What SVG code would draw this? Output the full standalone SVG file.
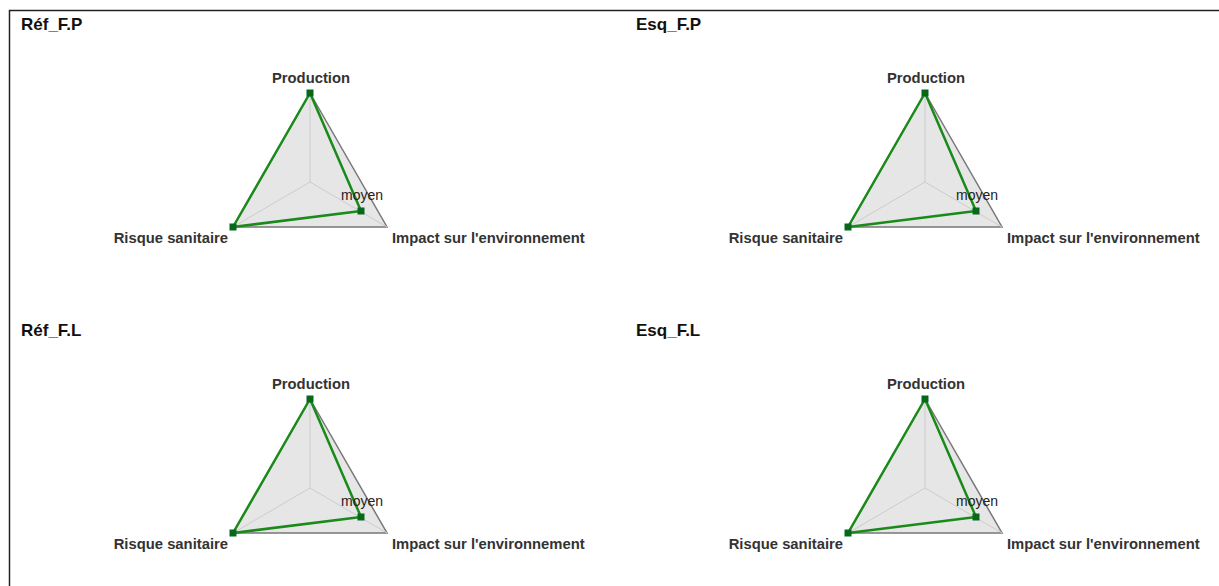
<svg xmlns="http://www.w3.org/2000/svg" width="1219" height="586" viewBox="0 0 1219 586">
<defs>
<style>
.title{font-family:"Liberation Sans",Arial,sans-serif;font-weight:bold;font-size:17px;fill:#111}
.lab{font-family:"Liberation Sans",Arial,sans-serif;font-weight:bold;font-size:14.8px;fill:#333}
.val{font-family:"Liberation Sans",Arial,sans-serif;font-size:14px;fill:#222}
.web{fill:#e6e6e6;stroke:#777;stroke-width:1.5}
.axis{stroke:#ccc;stroke-width:1;fill:none}
.data{fill:none;stroke:#1a8a1a;stroke-width:2.5;stroke-linejoin:round}
.pt{fill:#0a6a0a;stroke:#063;stroke-width:1}
</style>
<g id="radar">
<polygon class="web" points="310,93 387,227 233,227"/>
<line class="axis" x1="310" y1="182" x2="310" y2="93"/>
<line class="axis" x1="310" y1="182" x2="387" y2="227"/>
<line class="axis" x1="310" y1="182" x2="233" y2="227"/>
<polygon class="data" points="310,93 361,211 233,227"/>
<rect class="pt" x="307" y="90" width="6" height="6"/>
<rect class="pt" x="358" y="208" width="6" height="6"/>
<rect class="pt" x="230" y="224" width="6" height="6"/>
<text class="lab" x="311" y="83" text-anchor="middle">Production</text>
<text class="lab" x="228" y="243" text-anchor="end">Risque sanitaire</text>
<text class="lab" x="392" y="243">Impact sur l'environnement</text>
<text class="val" x="362" y="200" text-anchor="middle">moyen</text>
</g>
</defs>
<rect x="0" y="0" width="1219" height="586" fill="#fff"/>
<path d="M9.5,586 V10.5 H1219" fill="none" stroke="#222" stroke-width="1.5"/>
<g id="chart-ref-fp">
<text class="title" x="21" y="30">Réf_F.P</text>
<use href="#radar"/>
</g>
<g id="chart-esq-fp">
<text class="title" x="636" y="30">Esq_F.P</text>
<use href="#radar" transform="translate(615,0)"/>
</g>
<g id="chart-ref-fl">
<text class="title" x="21" y="336">Réf_F.L</text>
<use href="#radar" transform="translate(0,306)"/>
</g>
<g id="chart-esq-fl">
<text class="title" x="636" y="336">Esq_F.L</text>
<use href="#radar" transform="translate(615,306)"/>
</g>
<g id="connectors"></g>
</svg>
